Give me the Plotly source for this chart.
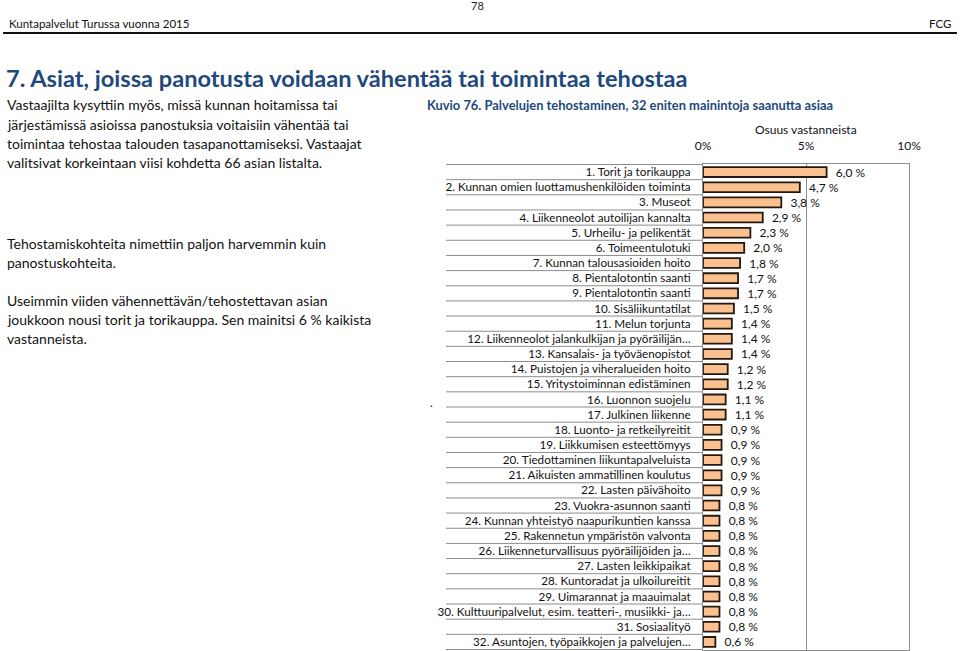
import plotly.graph_objects as go

W, H = 960, 651

categories = [
    "1. Torit ja torikauppa",
    "2. Kunnan omien luottamushenkilöiden toiminta",
    "3. Museot",
    "4. Liikenneolot autoilijan kannalta",
    "5. Urheilu- ja pelikentät",
    "6. Toimeentulotuki",
    "7. Kunnan talousasioiden hoito",
    "8. Pientalotontin saanti",
    "9. Pientalotontin saanti",
    "10. Sisäliikuntatilat",
    "11. Melun torjunta",
    "12. Liikenneolot jalankulkijan ja pyöräilijän…",
    "13. Kansalais- ja työväenopistot",
    "14. Puistojen ja viheralueiden hoito",
    "15. Yritystoiminnan edistäminen",
    "16. Luonnon suojelu",
    "17. Julkinen liikenne",
    "18. Luonto- ja retkeilyreitit",
    "19. Liikkumisen esteettömyys",
    "20. Tiedottaminen liikuntapalveluista",
    "21. Aikuisten ammatillinen koulutus",
    "22. Lasten päivähoito",
    "23. Vuokra-asunnon saanti",
    "24. Kunnan yhteistyö naapurikuntien kanssa",
    "25. Rakennetun ympäristön valvonta",
    "26. Liikenneturvallisuus pyöräilijöiden ja…",
    "27. Lasten leikkipaikat",
    "28. Kuntoradat ja ulkoilureitit",
    "29. Uimarannat ja maauimalat",
    "30. Kulttuuripalvelut, esim. teatteri-, musiikki- ja…",
    "31. Sosiaalityö",
    "32. Asuntojen, työpaikkojen ja palvelujen…",
]
values = [6.0, 4.7, 3.8, 2.9, 2.3, 2.0, 1.8, 1.7, 1.7, 1.5, 1.4, 1.4, 1.4,
          1.2, 1.2, 1.1, 1.1, 0.9, 0.9, 0.9, 0.9, 0.9, 0.8, 0.8, 0.8, 0.8,
          0.8, 0.8, 0.8, 0.8, 0.8, 0.6]
x_ticks = [0, 5, 10]
x_tick_labels = ["0%", "5%", "10%"]

page_number = "78"
header_left = "Kuntapalvelut Turussa vuonna 2015"
header_right = "FCG"
main_title = "7. Asiat, joissa panotusta voidaan vähentää tai toimintaa tehostaa"
chart_title = "Kuvio 76. Palvelujen tehostaminen, 32 eniten mainintoja saanutta asiaa"
axis_title = "Osuus vastanneista"
paragraph_lines = [
    [
        "Vastaajilta kysyttiin myös, missä kunnan hoitamissa tai",
        "järjestämissä asioissa panostuksia voitaisiin vähentää tai",
        "toimintaa tehostaa talouden tasapanottamiseksi. Vastaajat",
        "valitsivat korkeintaan viisi kohdetta 66 asian listalta.",
    ],
    [
        "Tehostamiskohteita nimettiin paljon harvemmin kuin",
        "panostuskohteita.",
    ],
    [
        "Useimmin viiden vähennettävän/tehostettavan asian",
        "joukkoon nousi torit ja torikauppa. Sen mainitsi 6 % kaikista",
        "vastanneista.",
    ],
]

FONT = "Lato"
NAVY = "#1F497D"


def px(x):
    return x / W


def py(y):
    return 1 - y / H


plot_left, plot_right = 703, 909
plot_top, plot_bottom = 164, 650
label_left = 446

fig = go.Figure(go.Bar(
    x=values, y=categories, orientation="h",
    marker=dict(color="#FAC090", line=dict(color="#24180f", width=1.8)),
    text=values, texttemplate="\u00a0\u00a0%{x:.1f} %", textposition="outside",
    constraintext="none",
    textfont=dict(family=FONT, size=12, color="#111"),
    cliponaxis=False, width=0.65,
))

fig.update_layout(
    width=W, height=H, margin=dict(l=0, r=0, t=0, b=0, autoexpand=False),
    paper_bgcolor="white", plot_bgcolor="white",
    separators=", ", showlegend=False,
    font=dict(family=FONT, color="#111"),
    xaxis=dict(
        domain=[px(plot_left), px(plot_right)], range=[0, 10], side="top",
        tickvals=x_ticks, ticktext=x_tick_labels, ticks="",
        tickfont=dict(family=FONT, size=12, color="#111"),
        ticklabelstandoff=8, automargin=False,
        showgrid=True, gridcolor="#8c8c8c", gridwidth=1,
        showline=True, linecolor="#8c8c8c", mirror=True, zeroline=False,
    ),
    yaxis=dict(
        domain=[py(plot_bottom), py(plot_top)], autorange="reversed",
        type="category", ticks="", ticklabelstandoff=9, automargin=False,
        tickfont=dict(family=FONT, size=11.7, color="#111"),
        showline=True, linecolor="#8c8c8c", mirror=True, showgrid=False,
    ),
)

shapes = []
for i in range(len(categories) + 1):
    shapes.append(dict(type="line", xref="paper", yref="y",
                       x0=px(label_left), x1=px(plot_left),
                       y0=i - 0.5, y1=i - 0.5,
                       line=dict(color="#8c8c8c", width=1)))
shapes.append(dict(type="line", xref="paper", yref="paper",
                   x0=px(3), x1=px(957), y0=py(33), y1=py(33),
                   line=dict(color="#111", width=2)))
fig.update_layout(shapes=shapes)

ann = [
    dict(text=page_number, x=px(477), y=py(5), xanchor="center", yanchor="middle",
         font=dict(size=11, color="#222")),
    dict(text=header_left, x=px(7), y=py(24), xanchor="left", yanchor="middle",
         font=dict(size=11.5, color="#111")),
    dict(text=header_right, x=px(953), y=py(24), xanchor="right", yanchor="middle",
         font=dict(size=11.5, color="#111")),
    dict(text="<b>" + main_title + "</b>", x=px(4), y=py(78), xanchor="left", yanchor="middle",
         font=dict(size=23.6, color=NAVY)),
    dict(text="<b>" + chart_title + "</b>", x=px(425), y=py(105), xanchor="left", yanchor="middle",
         font=dict(size=12.9, color=NAVY)),
    dict(text=axis_title, x=px(806), y=py(129), xanchor="center", yanchor="middle",
         font=dict(size=12, color="#111")),
    dict(text=".", x=px(431), y=py(402), xanchor="center", yanchor="middle",
         font=dict(size=12, color="#111")),
]
para_starts = [105, 243, 300]
line_h = 19.2
for start, lines in zip(para_starts, paragraph_lines):
    for k, line in enumerate(lines):
        ann.append(dict(text=line, x=px(5), y=py(start + k * line_h),
                        xanchor="left", yanchor="middle", align="left",
                        font=dict(size=14, color="#111")))
for a in ann:
    a.update(xref="paper", yref="paper", showarrow=False)
fig.update_layout(annotations=ann)

fig.write_html("out.html", config={"displayModeBar": False},
               post_script="document.body.style.margin='0';")
